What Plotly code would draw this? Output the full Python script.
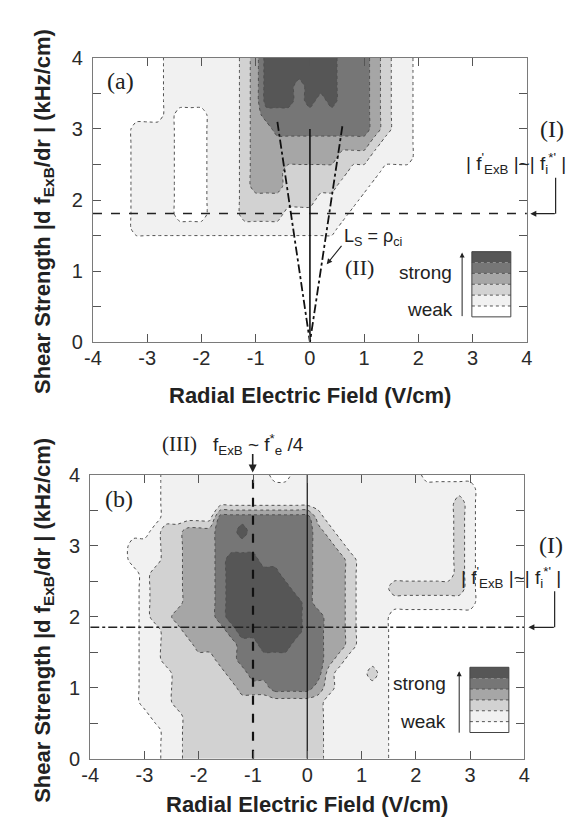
import plotly.graph_objects as go

W, H = 577, 827

# ---------------- data ----------------
grid_x = [-4.0, -3.8, -3.6, -3.4, -3.2, -3.0, -2.8, -2.6, -2.4, -2.2, -2.0,
          -1.8, -1.6, -1.4, -1.2, -1.0, -0.8, -0.6, -0.4, -0.2, 0.0,
          0.2, 0.4, 0.6, 0.8, 1.0, 1.2, 1.4, 1.6, 1.8, 2.0,
          2.2, 2.4, 2.6, 2.8, 3.0, 3.2, 3.4, 3.6, 3.8, 4.0]
# rows listed from top (y = 4.0) to bottom (y = 0.0)
grid_y_top_down = [4.0, 3.8, 3.6, 3.4, 3.2, 3.0, 2.8, 2.6, 2.4, 2.2, 2.0,
                   1.8, 1.6, 1.4, 1.2, 1.0, 0.8, 0.6, 0.4, 0.2, 0.0]

# fluctuation level (0 = weak ... 5 = strong), one digit per grid point
panel_a_rows = [
    "0000000 1111111 2 3 5555555 444 3 2 11 00000000000",
    "0000000 1111111 2 3 5555555 444 3 2 11 00000000000",
    "0000000 1111111 2 3 555 4 555 444 3 2 11 00000000000",
    "0000000 1111111 2 3 555 4 5 4 5 444 3 2 11 00000000000",
    "0000000 1 000 111 2 3 4444444444 3 2 11 00000000000",
    "0000 1111 000 111 2 3 3 444444444 3 2 11 00000000000",
    "0000 1111 000 111 2 33333333333 2 1 11 00000000000",
    "0000 1111 000 111 2 33333333 222 1111 00000000000",
    "0000 1111 000 111 2 333 22222 2 111 000 00000000000",
    "0000 1111 000 111 2 333 22222 111 000000000000000",
    "0000 1111 000 111 2 222 222 11 1 1 0000000000000000",
    "0000 1111 000 111 2 222 11111 1 00000000000000000",
    "0000 1111 111 111 111111111 000000000000000000",
    "0000000000 0000000000 0000000000 0000000000 0",
    "0000000000 0000000000 0000000000 0000000000 0",
    "0000000000 0000000000 0000000000 0000000000 0",
    "0000000000 0000000000 0000000000 0000000000 0",
    "0000000000 0000000000 0000000000 0000000000 0",
    "0000000000 0000000000 0000000000 0000000000 0",
    "0000000000 0000000000 0000000000 0000000000 0",
    "0000000000 0000000000 0000000000 0000000000 0",
]

panel_b_rows = [
    "0000000 1111111111 00 111111111111 0000000000",
    "0000000 1111111111 1111111111 111111111 00000",
    "0000000 1111111111 1111111111 1111111 2 1 00000",
    "0000000 11111 444444444 2 1111111111 11 2 1 00000",
    "000000 1 22 333 44 5 444444 3 2 1111111111 1 2 1 00000",
    "0000 111 22 333 444444444 33 2 1111111111 2 1 00000",
    "0000 111 22 333 4 555 44444 333 2 111111111 2 1 00000",
    "00000 1 222 333 4 55555 444 333 2 111111111 2 1 00000",
    "00000 1 222 333 4 555555 44 333 2 111 2222222 1 00000",
    "00000 1 222 333 4 5555555 4 333 2 111 11111111 00000",
    "00000 1 22 3333 4 5555555 44 33 2 111 0000000000000",
    "00000 11 22 3333 4 555555 44 33 2 111 0000000000000",
    "00000 11 222 3333 44 555 444 33 2 111 0000000000000",
    "00000 11 22222 33 44444444 3 2 1111 0000000000000",
    "00000 111 22222 33 4444444 2 111 2 1 0000000000000",
    "00000 111 222222 333 4444 3 2 11111 0000000000000",
    "00000 111 22222222222222 111111 0000000000000",
    "000000 111 2222222222222 111111 0000000000000",
    "0000000 11 2222222222222 111111 0000000000000",
    "0000000 11 2222222222222 111111 0000000000000",
    "0000000 11 2222222222222 111111 0000000000000",
]

x_ticks = [-4, -3, -2, -1, 0, 1, 2, 3, 4]
x_ticktext = ["-4", "-3", "-2", "-1", "0", "1", "2", "3", "4"]
y_ticks = [0, 0.5, 1, 1.5, 2, 2.5, 3, 3.5, 4]
y_ticktext = ["0", "", "1", "", "2", "", "3", "", "4"]

# reference lines
a_hline_x, a_hline_y = [-4, 4], [1.81, 1.81]
a_zero_x, a_zero_y = [0, 0], [0, 3.0]
a_ls_x, a_ls_y = [-0.6, 0, 0.6], [3.1, 0, 3.05]
b_hline_x, b_hline_y = [-4, 4], [1.85, 1.85]
b_fe_x, b_fe_y = [-1, -1], [0, 4]
b_zero_x, b_zero_y = [0, 0], [0, 4]

level_colors = ["#ffffff", "#f1f1f1", "#d2d2d2", "#a6a6a6", "#767676", "#565656"]

SANS = "Liberation Sans, Arial, sans-serif"
SERIF = "Liberation Serif, Times New Roman, serif"


def to_z(rows):
    z = []
    for r in rows:
        s = r.replace(" ", "")
        if len(s) != len(grid_x):
            raise ValueError("row length %d: %s" % (len(s), r))
        z.append([int(c) for c in s])
    return z[::-1]


grid_y = grid_y_top_down[::-1]
colorscale = [[k / 5, c] for k, c in enumerate(level_colors)]


def contour(rows, xa, ya, smooth):
    return go.Contour(
        x=grid_x, y=grid_y, z=to_z(rows), xaxis=xa, yaxis=ya,
        colorscale=colorscale, showscale=False,
        contours=dict(start=0.5, end=4.5, size=1, coloring="fill"),
        line=dict(color="#505050", width=1, dash="dot", smoothing=smooth),
        hoverinfo="skip",
    )


fig = go.Figure()
fig.add_trace(contour(panel_a_rows, "x", "y", 0.6))
fig.add_trace(contour(panel_b_rows, "x2", "y2", 0.9))


def line(xs, ys, xa, ya, dash, width, color="#111111"):
    fig.add_trace(go.Scatter(x=xs, y=ys, xaxis=xa, yaxis=ya, mode="lines",
                             line=dict(color=color, width=width, dash=dash),
                             showlegend=False, hoverinfo="skip"))


line(a_hline_x, a_hline_y, "x", "y", "dash", 1.6, "#222222")
line(a_zero_x, a_zero_y, "x", "y", "solid", 1.6)
line(a_ls_x, a_ls_y, "x", "y", "dashdot", 1.8)
line(b_hline_x, b_hline_y, "x2", "y2", "dashdot", 1.6, "#222222")
line(b_fe_x, b_fe_y, "x2", "y2", "dash", 2.2)
line(b_zero_x, b_zero_y, "x2", "y2", "solid", 1.2)


def P(px, py):
    return px / W, 1 - py / H


axis_common = dict(showgrid=False, zeroline=False, showline=True, mirror="ticks",
                   linecolor="#7a7a7a", linewidth=1, ticks="inside", ticklen=8,
                   tickcolor="#555555", tickwidth=1,
                   tickfont=dict(family=SANS, size=20, color="#2a2a2a"))

fig.update_layout(
    width=W, height=H, margin=dict(l=0, r=0, t=0, b=0),
    paper_bgcolor="white", plot_bgcolor="white", showlegend=False,
    xaxis=dict(domain=[78 / W, 523.5 / W], range=[-4, 4], anchor="y",
               tickvals=x_ticks, ticktext=x_ticktext, ticklabelstandoff=-2, **axis_common),
    yaxis=dict(domain=[1 - 332 / H, 1 - 40 / H], range=[0, 4], anchor="x",
               tickvals=y_ticks, ticktext=y_ticktext, ticklabelstandoff=5, **axis_common),
    xaxis2=dict(domain=[75.2 / W, 520.8 / W], range=[-4, 4], anchor="y2",
                tickvals=x_ticks, ticktext=x_ticktext, ticklabelstandoff=-2, **axis_common),
    yaxis2=dict(domain=[1 - 760 / H, 1 - 468 / H], range=[0, 4], anchor="x2",
                tickvals=y_ticks, ticktext=y_ticktext, ticklabelstandoff=5, **axis_common),
)

annotations = []
shapes = []


def text(px, py, s, size, family=SANS, xanchor="center", angle=0, color="#222222"):
    x, y = P(px, py)
    annotations.append(dict(x=x, y=y, xref="paper", yref="paper", text=s, showarrow=False,
                            xanchor=xanchor, yanchor="middle", textangle=angle,
                            font=dict(family=family, size=size, color=color)))


def arrow(tip, tail, width=1.2, head=2, size=1.0, color="#222222"):
    x, y = P(*tip)
    annotations.append(dict(x=x, y=y, xref="paper", yref="paper", text="", showarrow=True,
                            ax=tail[0] - tip[0], ay=tail[1] - tip[1], axref="pixel", ayref="pixel",
                            arrowhead=head, arrowsize=size, arrowwidth=width, arrowcolor=color))


def seg(p0, p1, width=1.2, color="#222222"):
    x0, y0 = P(*p0)
    x1, y1 = P(*p1)
    shapes.append(dict(type="line", xref="paper", yref="paper", x0=x0, y0=y0, x1=x1, y1=y1,
                       line=dict(color=color, width=width)))


def legend_box(left, top, right, bottom):
    n = len(level_colors)
    h = (bottom - top) / n
    for k in range(n):
        x0, y0 = P(left, top + k * h)
        x1, y1 = P(right, top + (k + 1) * h)
        shapes.append(dict(type="rect", xref="paper", yref="paper", x0=x0, y0=y0, x1=x1, y1=y1,
                           fillcolor=level_colors[n - 1 - k], line=dict(width=0)))
        if k > 0:
            shapes.append(dict(type="line", xref="paper", yref="paper", x0=x0, y0=y0, x1=x1, y1=y0,
                               line=dict(color="#555555", width=1, dash="dot")))
    x0, y0 = P(left, top)
    x1, y1 = P(right, bottom)
    shapes.append(dict(type="rect", xref="paper", yref="paper", x0=x0, y0=y0, x1=x1, y1=y1,
                       line=dict(color="#444444", width=1)))


# axis titles
ytitle = "<b>Shear Strength |d f<sub>ExB</sub>/dr | (kHz/cm)</b>"
xtitle = "<b>Radial Electric Field (V/cm)</b>"
text(301, 387, xtitle, 22)
text(27, 198, ytitle, 22, angle=-90)
text(298, 807, xtitle, 22)
text(27, 618, ytitle, 22, angle=-90)

# panel (a) annotations
text(106, 64, "(a)", 24, SERIF)
text(366, 224, "L<sub>S</sub> = ρ<sub>ci</sub>", 18)
text(352, 255, "(II)", 22, SERIF)
arrow((318, 252), (334, 232), width=1.1)
text(549, 113, "(I)", 24, SERIF)
text(512, 148, "| f<sup>'</sup><sub>ExB</sub> |~| f<sub>i</sub><sup>*'</sup> |", 19)
seg((553, 163), (553, 200))
arrow((527, 200), (553, 200), width=1.2)
legend_box(467, 239, 507, 306)
text(449, 260, "strong", 19, xanchor="right")
text(450, 298, "weak", 19, xanchor="right")
arrow((457, 240), (457, 305), width=1.0)

# panel (b) annotations
text(105, 493, "(b)", 24, SERIF)
text(167, 437, "(III)", 21, SERIF)
text(248, 437, "f<sub>ExB</sub> ~ f<sup>*</sup><sub>e</sub> /4", 19)
arrow((242, 466), (242, 446), width=1.6)
text(548, 540, "(I)", 24, SERIF)
text(507, 574, "| f<sup>'</sup><sub>ExB</sub> |~| f<sub>i</sub><sup>*'</sup> |", 19)
seg((552, 588), (552, 625))
arrow((525, 625), (552, 625), width=1.2)
legend_box(465, 666, 505, 733)
text(443, 683, "strong", 19, xanchor="right")
text(443, 722, "weak", 19, xanchor="right")
arrow((454, 670), (454, 733), width=1.0)

fig.update_layout(annotations=annotations, shapes=shapes)
fig.write_html("out.html")
